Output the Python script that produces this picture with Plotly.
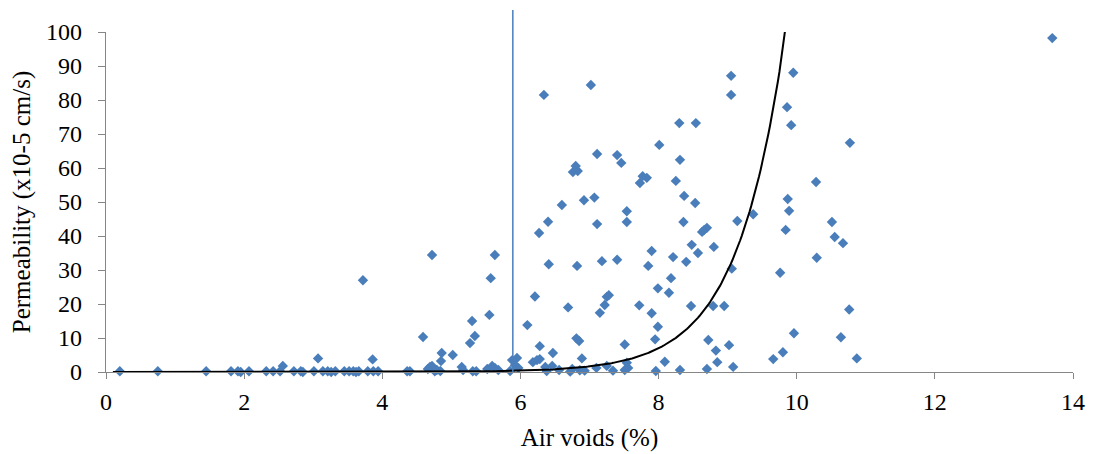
import numpy as np
import plotly.graph_objects as go

# Air voids (%) and permeability (x10-5 cm/s)
air_voids = [
    0.20, 0.75, 1.45, 1.81, 1.91, 1.95, 2.07, 2.32, 2.42, 2.52, 2.56, 2.72, 2.82, 2.85,
    3.01, 3.07, 3.14, 3.21, 3.26, 3.32, 3.45, 3.52, 3.58, 3.62, 3.66, 3.72, 3.79, 3.86,
    3.87, 3.94, 4.36, 4.40,
    4.59, 4.66, 4.69, 4.72, 4.72, 4.76, 4.79, 4.84, 4.85, 4.86, 5.02, 5.15, 5.17, 5.27,
    5.30, 5.31, 5.34, 5.36, 5.52, 5.55, 5.57, 5.59, 5.63, 5.63, 5.68, 5.85, 5.88, 5.92,
    5.95, 5.97,
    6.10, 6.18, 6.21, 6.24, 6.27, 6.28, 6.28, 6.34, 6.36, 6.38, 6.40, 6.41, 6.46, 6.47,
    6.56, 6.60, 6.69, 6.72, 6.75, 6.76, 6.80, 6.81, 6.82, 6.83, 6.85, 6.86, 6.89, 6.92,
    6.93,
    7.02, 7.07, 7.10, 7.11, 7.11, 7.15, 7.18, 7.22, 7.25, 7.25, 7.28, 7.34, 7.40, 7.40,
    7.46, 7.51, 7.51, 7.54, 7.54, 7.54, 7.56, 7.72, 7.73, 7.77, 7.83, 7.85, 7.90, 7.90,
    7.95, 7.96, 7.99, 7.99,
    8.01, 8.09, 8.15, 8.18, 8.21, 8.25, 8.30, 8.31, 8.31, 8.36, 8.37, 8.40, 8.47, 8.48,
    8.53, 8.54, 8.57, 8.63, 8.66, 8.70, 8.70, 8.72, 8.79, 8.80, 8.83, 8.85, 8.95,
    9.02, 9.05, 9.05, 9.06, 9.08, 9.14, 9.37, 9.66, 9.76, 9.80, 9.84, 9.86, 9.87, 9.89,
    9.92, 9.95, 9.96, 10.28, 10.29, 10.51, 10.55, 10.64, 10.67, 10.76, 10.77, 10.87, 13.70,
]
permeability = [
    0.2, 0.2, 0.2, 0.2, 0.2, 0.0, 0.2, 0.2, 0.2, 0.2, 1.8, 0.2, 0.2, 0.0,
    0.2, 4.0, 0.2, 0.2, 0.0, 0.2, 0.2, 0.2, 0.2, 0.0, 0.2, 27.0, 0.2, 3.7,
    0.2, 0.2, 0.2, 0.2,
    10.3, 0.9, 1.5, 34.4, 1.8, 0.2, 0.6, 0.3, 3.2, 5.6, 5.0, 1.5, 0.6, 8.5,
    15.0, 0.2, 10.6, 0.2, 0.9, 16.8, 27.6, 1.8, 34.4, 1.2, 0.6, 0.3, 3.5, 2.0,
    4.1, 1.2,
    13.8, 2.9, 22.2, 3.5, 40.9, 7.6, 3.8, 81.5, 1.5, 0.3, 44.2, 31.7, 1.8, 5.6,
    0.6, 49.1, 19.0, 0.1, 0.9, 58.8, 60.6, 9.9, 31.2, 59.1, 9.1, 0.5, 4.0, 50.5,
    0.4,
    84.4, 51.3, 1.2, 64.1, 43.5, 17.4, 32.6, 19.7, 22.1, 1.8, 22.6, 0.4, 63.8, 33.0,
    61.5, 8.1, 0.6, 47.3, 44.1, 2.7, 1.2, 19.6, 55.6, 57.6, 57.1, 31.2, 35.6, 17.3,
    9.6, 0.3, 24.6, 13.3,
    66.8, 3.0, 23.3, 27.6, 33.8, 56.2, 73.2, 62.4, 0.6, 44.1, 51.8, 32.4, 19.4, 37.4,
    49.7, 73.2, 35.0, 41.2, 41.8, 42.4, 0.9, 9.4, 19.4, 36.8, 6.3, 2.9, 19.4,
    7.9, 87.1, 81.5, 30.4, 1.5, 44.4, 46.4, 3.8, 29.2, 5.8, 41.8, 77.9, 50.9, 47.4,
    72.6, 88.0, 11.4, 55.9, 33.6, 44.1, 39.7, 10.2, 37.9, 18.4, 67.4, 4.0, 98.2,
]

# Exponential trendline y = a * exp(b * x)
trend_a = 6.4e-5
trend_b = 1.45
threshold_voids = 5.89

x_tick_vals = [0, 2, 4, 6, 8, 10, 12, 14]
y_tick_vals = [0, 10, 20, 30, 40, 50, 60, 70, 80, 90, 100]

FONT = "Times New Roman, Liberation Serif, Tinos, serif"
BLUE = "#4A7EBB"
AXIS = "#868686"

xt = np.linspace(0.1, max(air_voids), 600)
yt = trend_a * np.exp(trend_b * xt)

fig = go.Figure()
fig.add_trace(go.Scatter(
    x=air_voids, y=permeability, mode="markers",
    marker=dict(symbol="diamond", size=8, color=BLUE, line=dict(width=0)),
    cliponaxis=False, showlegend=False,
))
fig.add_trace(go.Scatter(
    x=xt, y=yt, mode="lines", line=dict(color="black", width=2),
    showlegend=False, hoverinfo="skip",
))
fig.add_shape(type="line", xref="x", yref="paper", x0=threshold_voids, x1=threshold_voids,
              y0=0, y1=1.065, line=dict(color=BLUE, width=1.5))

fig.update_layout(
    width=1095, height=454,
    margin=dict(l=106, r=22, t=32, b=82),
    paper_bgcolor="white", plot_bgcolor="white",
    font=dict(family=FONT, size=24, color="black"),
)
fig.update_xaxes(
    range=[0, 14], tickvals=x_tick_vals, showgrid=False, zeroline=False,
    showline=True, linecolor=AXIS, linewidth=1.3, automargin=False,
    ticks="outside", ticklen=6, tickcolor=AXIS, tickwidth=1.3,
    tickfont=dict(family=FONT, size=24), ticklabelstandoff=2,
    title=dict(text="Air voids (%)", font=dict(family=FONT, size=25), standoff=14),
)
fig.update_yaxes(
    range=[0, 100], tickvals=y_tick_vals, showgrid=False, zeroline=False,
    showline=True, linecolor=AXIS, linewidth=1.3, automargin=False,
    ticks="outside", ticklen=7, tickcolor=AXIS, tickwidth=1.3,
    tickfont=dict(family=FONT, size=24), ticklabelstandoff=11,
    title=dict(text="Permeability (x10-5 cm/s)", font=dict(family=FONT, size=25), standoff=8),
)

fig.write_html("out.html", config={"displayModeBar": False},
               post_script="document.body.style.margin='0';")
